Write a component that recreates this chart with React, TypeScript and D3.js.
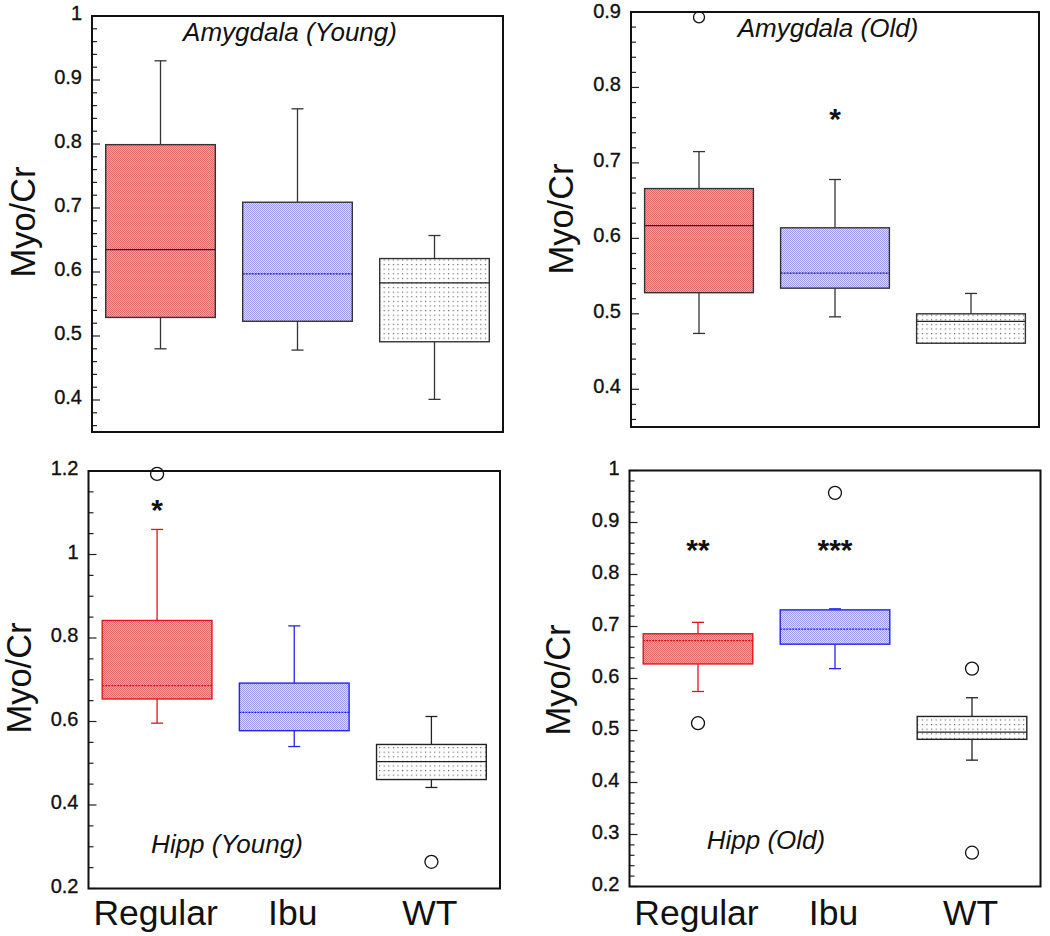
import React from "react";
import * as d3 from "d3";

const groups = ["Regular", "Ibu", "WT"];
// each row: [lower whisker, Q1, median, Q3, upper whisker]
const amygdalaYoung = [
  [0.48, 0.529, 0.635, 0.799, 0.93],
  [0.478, 0.523, 0.597, 0.709, 0.855],
  [0.401, 0.491, 0.583, 0.621, 0.657],
];
const amygdalaOld = [
  [0.474, 0.528, 0.617, 0.666, 0.715],
  [0.496, 0.534, 0.554, 0.614, 0.678],
  [0.461, 0.461, 0.49, 0.5, 0.527],
];
const hippYoung = [
  [0.596, 0.654, 0.686, 0.842, 1.06],
  [0.54, 0.578, 0.622, 0.692, 0.829],
  [0.442, 0.461, 0.504, 0.545, 0.612],
];
const hippOld = [
  [0.575, 0.628, 0.673, 0.686, 0.708],
  [0.619, 0.666, 0.695, 0.732, 0.734],
  [0.443, 0.483, 0.497, 0.527, 0.563],
];

// outliers: [group index, value]
const amygdalaYoungOutliers: number[][] = [];
const amygdalaOldOutliers = [[0, 0.893]];
const hippYoungOutliers = [[0, 1.193], [2, 0.264]];
const hippOldOutliers = [[0, 0.514], [1, 0.957], [2, 0.619], [2, 0.265]];

// significance marks: [group index, value, text]
const amygdalaYoungStars: [number, number, string][] = [];
const amygdalaOldStars: [number, number, string][] = [[1, 0.767, "*"]];
const hippYoungStars: [number, number, string][] = [[0, 1.122, "*"]];
const hippOldStars: [number, number, string][] = [[0, 0.86, "**"], [1, 0.86, "***"]];

const titles = ["Amygdala (Young)", "Amygdala (Old)", "Hipp (Young)", "Hipp (Old)"];
const yDomains = [[0.35, 1], [0.35, 0.9], [0.2, 1.2], [0.2, 1]];
const majorSteps = [0.1, 0.1, 0.2, 0.1];
const minorSteps = [0.02, 0.02, 0.05, 0.02];
const yLabel = "Myo/Cr";

const panelData = [
  { stats: amygdalaYoung, outliers: amygdalaYoungOutliers, stars: amygdalaYoungStars },
  { stats: amygdalaOld, outliers: amygdalaOldOutliers, stars: amygdalaOldStars },
  { stats: hippYoung, outliers: hippYoungOutliers, stars: hippYoungStars },
  { stats: hippOld, outliers: hippOldOutliers, stars: hippOldStars },
];

const layouts = [
  { left: 92, right: 503, top: 16, bottom: 432, titleX: 290, titleY: 41, ylabX: 35, ylabY: 222, xLabels: false, colored: false, r: 5.5 },
  { left: 631, right: 1039, top: 12, bottom: 427, titleX: 828, titleY: 37, ylabX: 573, ylabY: 219, xLabels: false, colored: false, r: 5.5 },
  { left: 88.5, right: 500, top: 471, bottom: 888.5, titleX: 227, titleY: 853, ylabX: 31, ylabY: 678, xLabels: true, colored: true, r: 6.5 },
  { left: 629.5, right: 1040.5, top: 470.5, bottom: 886.5, titleX: 766, titleY: 849, ylabX: 570, ylabY: 680, xLabels: true, colored: true, r: 6.5 },
];

const FONT = "'Liberation Sans', Arial, Helvetica, sans-serif";
const fills = ["url(#patRed)", "url(#patBlue)", "url(#patDots)"];

function tickValues(min: number, max: number, step: number) {
  const a = Math.ceil(min / step - 1e-6);
  const b = Math.floor(max / step + 1e-6);
  return d3.range(a, b + 1).map((i) => +(i * step).toFixed(4));
}

function fmt(v: number) {
  return String(+v.toFixed(2));
}

function Panel({ idx }: { idx: number }) {
  const L = layouts[idx];
  const D = panelData[idx];
  const [dmin, dmax] = yDomains[idx];
  const y = d3.scaleLinear().domain([dmin, dmax]).range([L.bottom, L.top]);
  const x = d3.scaleBand<string>().domain(groups).range([L.left, L.right]).padding(0);
  const bw = x.bandwidth() * 0.8;
  const cap = 6;
  const majors = tickValues(dmin, dmax, majorSteps[idx]);
  const minors = tickValues(dmin, dmax, minorSteps[idx]).filter(
    (v) => !majors.some((m) => Math.abs(m - v) < 1e-6)
  );
  const strokeCols = L.colored ? ["#e3151c", "#2424e6", "#222"] : ["#333", "#333", "#333"];
  const medCols = L.colored ? ["#d0101a", "#1a1ad8", "#222"] : ["#222", "#1a1a50", "#222"];
  const medDash = L.colored ? ["2 1", "2 1", null] : [null, "2 1", null];

  return (
    <g>
      {D.stats.map((s, i) => {
        const g = groups[i];
        const cx = (x(g) as number) + x.bandwidth() / 2;
        const [lo, q1, med, q3, hi] = s;
        const col = strokeCols[i];
        return (
          <g key={g}>
            {hi > q3 && (
              <>
                <line x1={cx} x2={cx} y1={y(q3)} y2={y(hi)} stroke={col} strokeWidth={1.3} />
                <line x1={cx - cap} x2={cx + cap} y1={y(hi)} y2={y(hi)} stroke={col} strokeWidth={1.3} />
              </>
            )}
            {lo < q1 && (
              <>
                <line x1={cx} x2={cx} y1={y(q1)} y2={y(lo)} stroke={col} strokeWidth={1.3} />
                <line x1={cx - cap} x2={cx + cap} y1={y(lo)} y2={y(lo)} stroke={col} strokeWidth={1.3} />
              </>
            )}
            <rect
              x={cx - bw / 2}
              y={y(q3)}
              width={bw}
              height={y(q1) - y(q3)}
              fill={fills[i]}
              stroke={col}
              strokeWidth={1.4}
            />
            <line
              x1={cx - bw / 2}
              x2={cx + bw / 2}
              y1={y(med)}
              y2={y(med)}
              stroke={medCols[i]}
              strokeWidth={1.3}
              strokeDasharray={medDash[i] || undefined}
            />
          </g>
        );
      })}
      {D.outliers.map(([gi, v], k) => {
        const cx = (x(groups[gi]) as number) + x.bandwidth() / 2;
        return <circle key={"o" + k} cx={cx} cy={y(v)} r={L.r} fill="#fff" stroke="#111" strokeWidth={1.3} />;
      })}
      {D.stars.map(([gi, v, t], k) => {
        const cx = (x(groups[gi]) as number) + x.bandwidth() / 2;
        return (
          <text key={"s" + k} x={cx} y={y(v) + 16.5} textAnchor="middle" fontFamily={FONT} fontWeight="bold" fontSize={30} fill="#111">
            {t}
          </text>
        );
      })}
      {/* axis ticks */}
      {majors.map((v) => (
        <g key={"M" + v}>
          <line x1={L.left} x2={L.left + 8} y1={y(v)} y2={y(v)} stroke="#222" strokeWidth={1.2} />
          <text
            x={L.left - 10}
            y={Math.max(y(v) + 4, 17.5)}
            textAnchor="end"
            fontFamily={FONT}
            fontSize={20}
            fill="#111"
            stroke="#111"
            strokeWidth={0.35}
          >
            {fmt(v)}
          </text>
        </g>
      ))}
      {minors.map((v) => (
        <line key={"m" + v} x1={L.left} x2={L.left + 5} y1={y(v)} y2={y(v)} stroke="#222" strokeWidth={1.2} />
      ))}
      <rect x={L.left} y={L.top} width={L.right - L.left} height={L.bottom - L.top} fill="none" stroke="#111" strokeWidth={2} />
      <text x={L.titleX} y={L.titleY} textAnchor="middle" fontFamily={FONT} fontStyle="italic" fontSize={26} fill="#111">
        {titles[idx]}
      </text>
      <text
        transform={`translate(${L.ylabX},${L.ylabY}) rotate(-90)`}
        textAnchor="middle"
        fontFamily={FONT}
        fontSize={34.5}
        fill="#111"
      >
        {yLabel}
      </text>
      {L.xLabels &&
        groups.map((g) => (
          <text key={"x" + g} x={(x(g) as number) + x.bandwidth() / 2 - 1.5} y={925} textAnchor="middle" fontFamily={FONT} fontSize={35.5} fill="#111">
            {g}
          </text>
        ))}
    </g>
  );
}

export default function App() {
  return (
    <svg width={1050} height={936} style={{ position: "absolute", left: 0, top: 0, background: "#fff" }}>
      <defs>
        <pattern id="patRed" width={2} height={2} patternUnits="userSpaceOnUse">
          <rect width={2} height={2} fill="#f4a3a3" />
          <rect width={1} height={1} fill="#e26a6a" />
          <rect x={1} y={1} width={1} height={1} fill="#e26a6a" />
        </pattern>
        <pattern id="patBlue" width={2} height={2} patternUnits="userSpaceOnUse">
          <rect width={2} height={2} fill="#dcdcfa" />
          <rect width={1} height={1} fill="#9c9cef" />
          <rect x={1} y={1} width={1} height={1} fill="#9c9cef" />
        </pattern>
        <pattern id="patDots" width={4.6} height={4.6} patternUnits="userSpaceOnUse">
          <rect width={4.6} height={4.6} fill="#fff" />
          <rect x={1.8} y={1.8} width={1.2} height={1.2} fill="#6a6a6a" />
        </pattern>
      </defs>
      <rect width={1050} height={936} fill="#fff" />
      {layouts.map((_, i) => (
        <Panel key={i} idx={i} />
      ))}
    </svg>
  );
}
